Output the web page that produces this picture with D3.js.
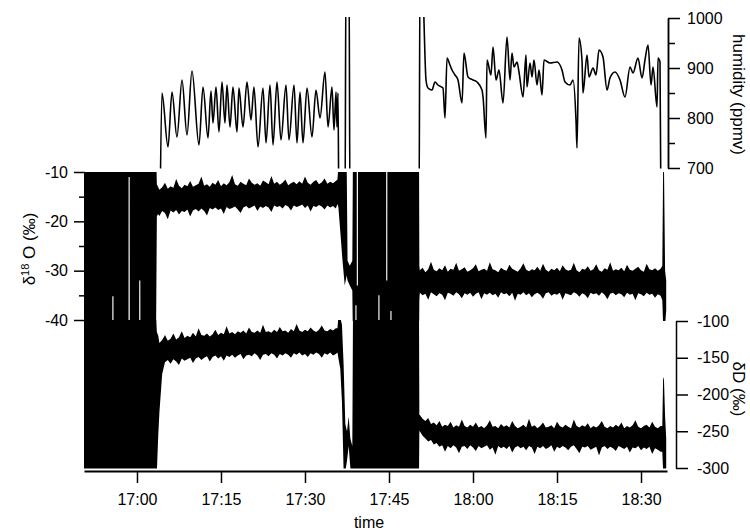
<!DOCTYPE html>
<html><head><meta charset="utf-8">
<script src="https://cdn.jsdelivr.net/npm/d3@7"></script>
<style>
body{margin:0;background:#fff}
svg{display:block}
text{font-family:"Liberation Sans",Arial,sans-serif;fill:#000}
</style>
</head><body>
<svg id="c" width="750" height="531"></svg>
<script>
// ---------- DATA (time = minutes after 16:00) ----------
const timeDomain = [50.54, 154.64];
const timeTicks = ["17:00","17:15","17:30","17:45","18:00","18:15","18:30"];
const humTicks = [700, 800, 900, 1000];
const humMinor = [750, 850, 950];
const d18oTicks = [-10, -20, -30, -40];
const d18oMinor = [-15, -25, -35];
const dDTicks = [-100, -150, -200, -250, -300];

// humidity (ppmv)
const humT = [64.11,64.46,65.54,66.25,67.14,68.04,68.93,69.82,71.07,71.79,72.68,73.21,73.57,74.11,74.64,75.18,75.71,76.07,76.61,77.14,77.86,78.21,78.93,79.64,80.36,80.89,81.61,82.5,83.04,83.75,84.29,85,85.71,86.61,87.14,88.04,88.57,89.11,89.64,90.36,91.25,91.96,92.68,93.57,94.11,94.82,95.18,95.54,95.71,95.89,96.07,
 97.14,97.32,97.86,98.04,
 110.36,110.54,111.07,111.61,111.96,112.68,113.21,113.75,114.64,115,115.36,115.89,116.25,116.79,117.32,118.04,118.39,119.11,120,120.71,121.61,121.79,122.32,122.5,123.21,123.57,124.11,124.64,125.36,126.07,126.61,126.96,127.32,127.86,128.21,128.93,129.46,129.64,130.18,130.54,130.89,131.43,131.79,132.32,132.68,133.75,135,135.89,136.43,137.32,137.86,138.39,138.57,138.93,139.46,139.64,140.36,140.71,141.43,141.96,142.5,143.21,143.93,144.46,145.36,146.25,147.14,148.04,148.57,149.46,150.18,150.71,151.25,151.79,152.14,152.86,153.04,153.39,153.57];
const humV = [600,850,742,852,762,876,766,894,746,862,760,854,790,862,772,872,790,866,782,862,772,860,782,872,796,862,742,860,750,866,746,872,756,866,756,866,750,852,750,860,762,856,800,892,782,862,776,852,782,850,600,
 600,1100,1100,600,
 600,1100,1050,876,860,856,872,866,860,800,920,906,896,886,876,830,930,882,876,872,856,842,760,916,886,942,876,896,830,962,876,930,902,912,892,842,926,862,910,882,916,866,896,846,916,910,912,896,872,866,876,796,740,960,916,850,926,882,900,886,936,922,856,880,892,876,842,902,890,920,880,916,946,866,902,822,920,912,600];

// saturated (off-scale) intervals and the narrow gaps inside them
const d18oSat = [-5, -45];
const d18oBlocks = [[50.54, 63.39], [98.57, 110.36]];
const d18oGapT  = [55.7, 58.6, 60.5, 99.1, 99.35, 103.2, 104.6, 105.35];
const d18oGapHi = [-5, -5, -5, -5, -33, -5, -32, -5];
const d18oGapLo = [-35.2, -11, -32, -37, -45, -35, -45, -38.2];
const dDSat = [-90, -310];
const dDBlocks = [[50.54, 63.39], [98.57, 110.36]];

// noisy plateaus sampled every 0.5 min: upper / lower envelope
const p1Start = 64.0, p2Start = 110.5, step = 0.5;
const d18oP1Hi = [-13.6,-13.1,-12.2,-13.4,-12.9,-13.2,-11.4,-12.8,-13.3,-12.6,-12.9,-11.8,-13.0,-12.7,-12.4,-10.9,-12.8,-12.5,-13.0,-12.2,-12.6,-11.6,-12.9,-12.3,-12.7,-12.1,-10.6,-12.5,-12.8,-12.0,-12.4,-12.7,-11.3,-12.2,-12.6,-12.3,-12.8,-11.7,-12.1,-12.5,-10.8,-12.4,-12.0,-12.6,-12.2,-11.5,-12.7,-12.3,-12.0,-12.5,-11.9,-12.4,-10.9,-12.2,-12.6,-12.0,-11.6,-12.5,-12.1,-11.3,-12.4,-12.0,-12.3,-11.8];
const d18oP1Lo = [-18.9,-17.9,-18.3,-19.6,-17.8,-18.2,-17.7,-18.6,-17.9,-18.1,-17.6,-19.0,-17.8,-17.5,-18.0,-17.4,-17.9,-18.8,-17.3,-17.6,-17.2,-17.7,-17.4,-18.5,-17.1,-17.5,-17.3,-17.0,-17.6,-18.3,-17.2,-16.9,-17.4,-17.1,-16.8,-17.9,-17.0,-17.3,-16.9,-17.2,-18.1,-16.8,-17.1,-16.9,-17.4,-16.7,-17.0,-17.8,-16.8,-17.1,-16.9,-16.6,-17.3,-16.8,-18.0,-16.9,-17.1,-16.7,-17.0,-17.6,-16.8,-17.2,-16.9,-17.4];
const d18oP2Hi = [-29.9,-29.4,-30.3,-29.7,-28.2,-29.8,-30.1,-29.5,-29.9,-28.9,-30.2,-29.6,-29.8,-28.4,-30.0,-29.7,-29.3,-30.2,-29.9,-29.5,-28.7,-30.1,-29.8,-29.6,-30.0,-28.3,-29.7,-29.9,-30.3,-29.4,-29.8,-30.0,-28.8,-29.6,-29.9,-30.2,-29.5,-28.5,-29.8,-30.1,-29.7,-29.9,-29.2,-30.0,-28.6,-29.8,-30.2,-29.6,-29.9,-29.4,-30.1,-28.9,-29.7,-30.0,-29.8,-28.4,-29.9,-30.3,-29.6,-29.8,-29.1,-30.0,-29.7,-28.7,-29.9,-30.2,-29.5,-29.8,-28.3,-30.0,-29.7,-29.9,-29.4,-30.1,-28.8,-29.8,-30.0,-29.6,-29.2,-29.9,-30.2,-28.6,-29.7,-29.9,-29.5,-30.0,-29.6];
const d18oP2Lo = [-34.5,-35.0,-34.7,-35.9,-34.4,-34.8,-35.2,-34.6,-34.9,-36.0,-34.5,-34.7,-35.1,-34.4,-34.8,-35.6,-34.6,-34.9,-34.5,-35.3,-34.7,-34.4,-35.8,-34.6,-34.9,-34.5,-35.0,-34.7,-35.5,-34.4,-34.8,-34.6,-35.2,-34.5,-36.1,-34.7,-34.9,-34.4,-35.0,-34.6,-35.4,-34.8,-34.5,-34.9,-35.7,-34.6,-34.4,-35.1,-34.7,-34.9,-34.5,-35.9,-34.6,-34.8,-35.0,-34.4,-34.7,-35.3,-34.6,-34.9,-35.6,-34.5,-34.8,-34.6,-35.1,-34.4,-34.9,-35.8,-34.7,-34.5,-35.0,-34.6,-34.8,-35.4,-34.5,-34.9,-34.7,-36.0,-34.6,-34.8,-35.2,-34.5,-34.9,-34.7,-35.5,-34.8,-35.1];
const dDP1Hi = [-130,-126,-119,-127,-124,-117,-125,-122,-114,-123,-120,-122,-116,-121,-110,-119,-120,-117,-121,-118,-112,-119,-116,-118,-107,-117,-115,-118,-114,-116,-113,-117,-109,-115,-116,-113,-116,-105,-115,-114,-116,-112,-115,-108,-114,-113,-116,-111,-114,-104,-113,-115,-112,-114,-109,-113,-115,-112,-106,-113,-114,-111,-113,-110];
const dDP1Lo = [-225,-172,-156,-153,-158,-152,-155,-160,-151,-154,-152,-150,-157,-151,-149,-153,-150,-148,-155,-149,-147,-151,-148,-154,-147,-149,-146,-150,-147,-145,-152,-147,-146,-148,-144,-147,-153,-146,-145,-148,-144,-146,-151,-145,-147,-144,-146,-150,-144,-146,-143,-147,-145,-149,-144,-146,-143,-145,-150,-144,-146,-143,-147,-145];
const dDP2Hi = [-228,-233,-236,-232,-240,-238,-242,-236,-244,-241,-243,-237,-245,-242,-244,-234,-243,-245,-241,-244,-238,-245,-243,-246,-242,-235,-244,-243,-246,-240,-244,-242,-245,-236,-243,-246,-244,-241,-245,-233,-244,-242,-246,-243,-238,-245,-244,-242,-246,-237,-243,-245,-241,-244,-246,-234,-243,-245,-242,-244,-239,-246,-243,-245,-242,-236,-244,-246,-243,-245,-241,-244,-238,-246,-243,-245,-242,-235,-244,-246,-243,-241,-245,-237,-244,-246,-243];
const dDP2Lo = [-250,-256,-260,-264,-262,-268,-266,-271,-269,-278,-270,-273,-269,-272,-280,-271,-270,-274,-269,-272,-277,-270,-273,-271,-269,-275,-272,-282,-270,-273,-271,-274,-270,-279,-272,-270,-273,-271,-276,-270,-272,-281,-271,-273,-270,-274,-272,-269,-278,-271,-273,-270,-272,-276,-271,-269,-274,-280,-271,-272,-270,-275,-273,-271,-283,-272,-270,-274,-271,-273,-277,-270,-272,-274,-271,-279,-272,-273,-270,-276,-272,-274,-271,-281,-273,-275,-278];

// transitions between saturated blocks and plateaus
const d18oEdgeT  = [63.55, 63.75, 95.8, 95.95, 96.3, 96.7, 97.1, 97.45, 97.6, 98.0, 98.45, 110.42, 153.8, 153.95, 154.1, 154.3, 154.5];
const d18oEdgeHi = [-12.5, -13, -11.5, -9, -9, -9, -9, -9, -28, -29, -28, -29, -29, -9, -9, -30, -32];
const d18oEdgeLo = [-19, -18.5, -16.5, -17, -22, -28, -33, -31, -32, -33, -34, -36, -36, -41, -41, -41, -38];
const dDEdgeT  = [63.55, 63.8, 95.8, 95.95, 96.3, 96.6, 96.9, 97.2, 97.5, 97.8, 98.1, 98.45, 110.42, 153.8, 153.95, 154.1, 154.3, 154.5];
const dDEdgeHi = [-115, -120, -110, -95, -95, -105, -160, -240, -250, -230, -260, -270, -228, -243, -176, -180, -230, -260];
const dDEdgeLo = [-305, -255, -143, -150, -165, -210, -305, -305, -290, -270, -300, -305, -250, -278, -305, -305, -305, -300];

// ---------- CHART ----------
const base = new Date(2000, 0, 1, 16, 0, 0).getTime();
const toDate = m => new Date(base + m * 60000);
const parseHM = d3.timeParse("%H:%M");
const tickDates = timeTicks.map(s => { const p = parseHM(s); return toDate(p.getHours()*60 + p.getMinutes() - 960); });

const svg = d3.select("#c");
const X0 = 84, X1 = 667;
const x = d3.scaleTime().domain(timeDomain.map(toDate)).range([X0, X1]);
const yH = d3.scaleLinear().domain([700, 1000]).range([168, 18]);
const yO = d3.scaleLinear().domain([-40, -10]).range([320, 172]);
const yD = d3.scaleLinear().domain([-300, -100]).range([468, 321]);

const defs = svg.append("defs");
function clip(id, y0, y1) {
  defs.append("clipPath").attr("id", id).append("rect")
    .attr("x", X0).attr("y", y0).attr("width", X1 - X0 + 1).attr("height", y1 - y0);
}
clip("cH", 17, 168.5); clip("cO", 172, 321); clip("cD", 320, 468.5);

function buildBand(sat, blocks, gapT, gapHi, gapLo, p1Hi, p1Lo, p2Hi, p2Lo, eT, eHi, eLo) {
  const pts = [];
  blocks.forEach(([t0, t1]) => {
    pts.push({t: t0, hi: sat[0], lo: sat[1]});
    (gapT || []).forEach((t, i) => {
      if (t > t0 && t < t1) {
        pts.push({t: t - 0.11, hi: sat[0], lo: sat[1]});
        pts.push({t: t - 0.1, hi: gapHi[i], lo: gapLo[i]});
        pts.push({t: t + 0.1, hi: gapHi[i], lo: gapLo[i]});
        pts.push({t: t + 0.11, hi: sat[0], lo: sat[1]});
      }
    });
    pts.push({t: t1, hi: sat[0], lo: sat[1]});
  });
  p1Hi.forEach((v, i) => pts.push({t: p1Start + i * step, hi: v, lo: p1Lo[i]}));
  p2Hi.forEach((v, i) => pts.push({t: p2Start + i * step, hi: v, lo: p2Lo[i]}));
  eT.forEach((t, i) => pts.push({t, hi: eHi[i], lo: eLo[i]}));
  pts.sort((a, b) => a.t - b.t);
  return pts;
}

const bandO = buildBand(d18oSat, d18oBlocks, d18oGapT, d18oGapHi, d18oGapLo, d18oP1Hi, d18oP1Lo, d18oP2Hi, d18oP2Lo, d18oEdgeT, d18oEdgeHi, d18oEdgeLo);
const bandD = buildBand(dDSat, dDBlocks, null, null, null, dDP1Hi, dDP1Lo, dDP2Hi, dDP2Lo, dDEdgeT, dDEdgeHi, dDEdgeLo);

const areaFor = y => d3.area().x(d => x(toDate(d.t))).y0(d => y(d.lo)).y1(d => y(d.hi));

svg.append("path").datum(bandO).attr("clip-path", "url(#cO)")
  .attr("d", areaFor(yO)).attr("fill", "#000");
svg.append("path").datum(bandD).attr("clip-path", "url(#cD)")
  .attr("d", areaFor(yD)).attr("fill", "#000");

const hum = humT.map((t, i) => ({t, v: humV[i]}));
svg.append("path").datum(hum).attr("clip-path", "url(#cH)")
  .attr("d", d3.line().curve(d3.curveMonotoneX).x(d => x(toDate(d.t))).y(d => yH(d.v)))
  .attr("fill", "none").attr("stroke", "#000").attr("stroke-width", 1.6).attr("stroke-linejoin", "round");

// ---------- AXES ----------
function styleAxis(g, fs) {
  g.attr("font-family", null).attr("font-size", null);
  g.selectAll("text").attr("font-size", fs).attr("fill", "#000");
  g.selectAll("line,path").attr("stroke", "#000").attr("stroke-width", 1.5);
}
const fmt = d => String(d);

svg.append("g").attr("transform", "translate(0,471)")
  .call(d3.axisBottom(x).tickValues(tickDates).tickFormat(d3.timeFormat("%H:%M")).tickSize(12).tickSizeOuter(0).tickPadding(11))
  .call(g => styleAxis(g, 16))
  .call(g => g.select(".domain").attr("stroke-width", 2));

svg.append("g").attr("transform", "translate(85,0)")
  .call(d3.axisLeft(yO).tickValues(d18oTicks).tickFormat(fmt).tickSize(11).tickSizeOuter(0).tickPadding(6))
  .call(g => styleAxis(g, 16));
svg.append("g").attr("transform", "translate(85,0)")
  .call(d3.axisLeft(yO).tickValues(d18oMinor).tickFormat("").tickSize(6).tickSizeOuter(0))
  .call(g => styleAxis(g, 16));

svg.append("g").attr("transform", "translate(668,0)")
  .call(d3.axisRight(yH).tickValues(humTicks).tickFormat(fmt).tickSize(12).tickSizeOuter(0).tickPadding(7))
  .call(g => styleAxis(g, 16));
svg.append("g").attr("transform", "translate(668,0)")
  .call(d3.axisRight(yH).tickValues(humMinor).tickFormat("").tickSize(7).tickSizeOuter(0))
  .call(g => styleAxis(g, 16));

svg.append("g").attr("transform", "translate(676,0)")
  .call(d3.axisRight(yD).tickValues(dDTicks).tickFormat(fmt).tickSize(12).tickSizeOuter(0).tickPadding(9))
  .call(g => styleAxis(g, 16));

// ---------- TITLES ----------
svg.append("text").attr("x", 369).attr("y", 528).attr("text-anchor", "middle").attr("font-size", 16).text("time");
svg.append("text").attr("transform", "translate(739,94.5) rotate(90)").attr("dy", "0.35em")
  .attr("text-anchor", "middle").attr("font-size", 17).text("humidity (ppmv)");
svg.append("text").attr("transform", "translate(739,389) rotate(90)").attr("dy", "0.35em")
  .attr("text-anchor", "middle").attr("font-size", 17).text("δD (‰)");
const tO = svg.append("text").attr("transform", "translate(29,249) rotate(-90)").attr("dy", "0.35em")
  .attr("text-anchor", "middle").attr("font-size", 17);
tO.append("tspan").text("δ");
tO.append("tspan").attr("font-size", 11).attr("dy", "-0.55em").text("18");
tO.append("tspan").attr("dy", "0.35em").text(" O (‰)");
</script>
</body></html>
